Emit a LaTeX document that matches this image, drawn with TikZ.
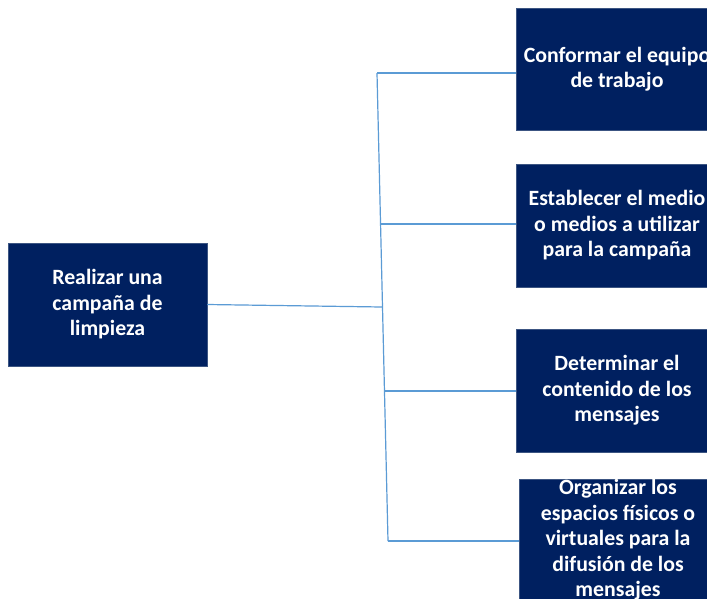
\documentclass[tikz,border=0pt]{standalone}
\usepackage{fontspec}
\setmainfont{Carlito}
\definecolor{navy}{RGB}{0,32,96}
\definecolor{navyedge}{RGB}{60,85,130}
\definecolor{linkblue}{RGB}{91,155,213}
\tikzset{
  box/.style={rectangle, fill=navy, draw=navyedge, line width=0.5pt, inner sep=0pt,
    text=white, align=center, font=\fontsize{21.8}{25.5}\selectfont\bfseries},
  conn/.style={draw=linkblue, line width=1.2pt}
}
\begin{document}
\begin{tikzpicture}[x=1pt,y=-1pt]
\clip (0,0) rectangle (707,598);
\fill[white] (0,0) rectangle (707,598);
\coordinate (j1) at (377,73);
\coordinate (j2) at (380,224);
\coordinate (jr) at (382,307);
\coordinate (j3) at (385,391);
\coordinate (j4) at (388,541);
\node[box, minimum width=199, minimum height=123] (a) at (107.5,304.5)
  {Realizar una\\campaña de\\limpieza};
\node[box, minimum width=202, minimum height=122] (b1) at (617,69)
  {Conformar el equipo\\de trabajo};
\node[box, minimum width=202, minimum height=123] (b2) at (617,225.5)
  {Establecer el medio\\o medios a utilizar\\para la campaña};
\node[box, minimum width=202, minimum height=123] (b3) at (617,390.5)
  {Determinar el\\contenido de los\\mensajes};
\node[box, minimum width=198, minimum height=122] (b4) at (618,540)
  {Organizar los\\espacios físicos o\\virtuales para la\\difusión de los\\mensajes};
\draw[conn] (j1) -- (j4);
\draw[conn] (j1) -- (j1 -| b1.west);
\draw[conn] (j2) -- (j2 -| b2.west);
\draw[conn] (j3) -- (j3 -| b3.west);
\draw[conn] (j4) -- (j4 -| b4.west);
\draw[conn] (a.east) -- (jr);
\end{tikzpicture}
\end{document}
